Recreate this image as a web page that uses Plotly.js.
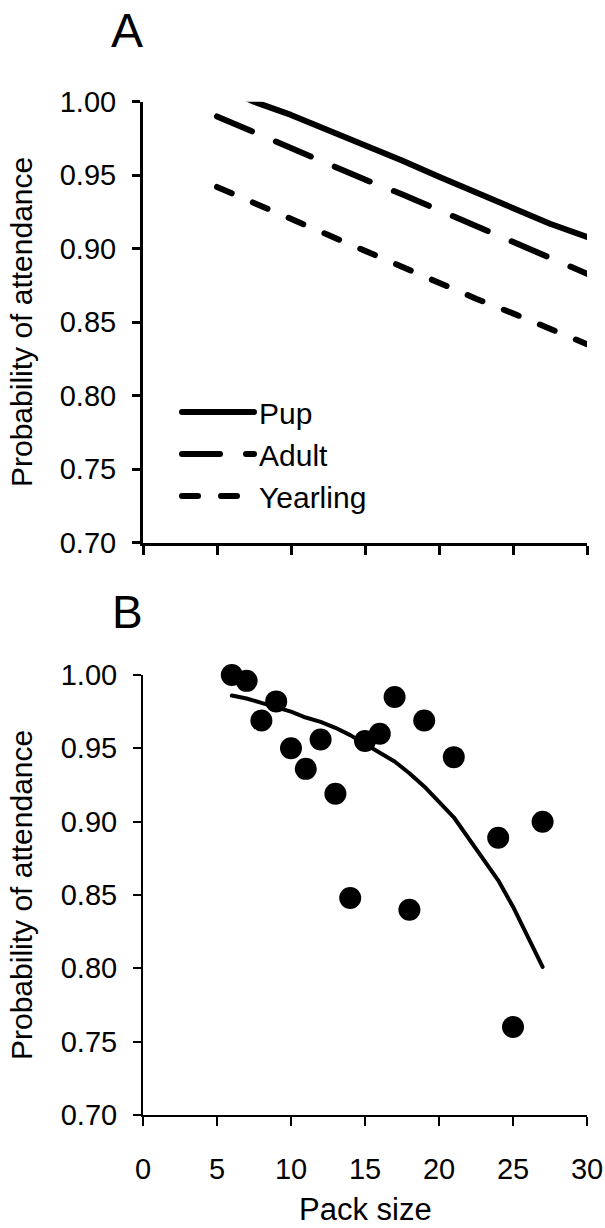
<!DOCTYPE html>
<html>
<head>
<meta charset="utf-8">
<script src="https://cdn.plot.ly/plotly-3.0.1.min.js"></script>
<style>
html,body{margin:0;padding:0;background:#fff;}
#chart path.js-line{stroke-linecap:round;stroke-linejoin:round;}
</style>
</head>
<body>
<div id="chart" style="width:605px;height:1228px;"></div>
<script>
// Panel A: modelled probability of attendance by age class
const modelPackSize = [5, 7.5, 10, 12.5, 15, 17.5, 20, 22.5, 25, 27.5, 30];
const pupProb      = [1.011, 1.000, 0.991, 0.981, 0.970, 0.960, 0.949, 0.938, 0.927, 0.917, 0.908];
const adultProb    = [0.990, 0.979, 0.969, 0.958, 0.947, 0.937, 0.926, 0.915, 0.905, 0.894, 0.883];
const yearlingProb = [0.942, 0.931, 0.920, 0.909, 0.898, 0.887, 0.877, 0.866, 0.856, 0.845, 0.835];

// Panel B: observed pack attendance and fitted curve
const obsPackSize   = [6, 7, 8, 9, 10, 11, 12, 13, 14, 15, 16, 17, 18, 19, 21, 24, 25, 27];
const obsAttendance = [1.000, 0.996, 0.969, 0.982, 0.950, 0.936, 0.956, 0.919, 0.848, 0.955, 0.960, 0.985, 0.840, 0.969, 0.944, 0.889, 0.760, 0.900];
const fitPackSize   = [6, 7, 8, 9, 10, 11, 12, 13, 14, 15, 16, 17, 18, 19, 21, 24, 25, 27];
const fitAttendance = [0.986, 0.984, 0.981, 0.978, 0.975, 0.971, 0.968, 0.964, 0.959, 0.953, 0.947, 0.941, 0.933, 0.924, 0.903, 0.860, 0.842, 0.801];

// Axis ticks
const xTicks = [0, 5, 10, 15, 20, 25, 30];
const yTicks = [0.70, 0.75, 0.80, 0.85, 0.90, 0.95, 1.00];
const yTickText = ["0.70", "0.75", "0.80", "0.85", "0.90", "0.95", "1.00"];

const W = 605, H = 1228;
const px = v => v / W;
const py = v => (H - v) / H;

const FONT = 'Liberation Sans, Arial, sans-serif';

const traces = [
  {x: modelPackSize, y: pupProb, name: 'Pup', type: 'scatter', mode: 'lines',
   line: {color: '#000', width: 6}, xaxis: 'x', yaxis: 'y'},
  {x: modelPackSize, y: adultProb, name: 'Adult', type: 'scatter', mode: 'lines',
   line: {color: '#000', width: 6, dash: '38px,26px'}, xaxis: 'x', yaxis: 'y'},
  {x: modelPackSize, y: yearlingProb, name: 'Yearling', type: 'scatter', mode: 'lines',
   line: {color: '#000', width: 6, dash: '16px,23px'}, xaxis: 'x', yaxis: 'y'},
  {x: fitPackSize, y: fitAttendance, name: 'Fit', type: 'scatter', mode: 'lines',
   line: {color: '#000', width: 4}, xaxis: 'x2', yaxis: 'y2', showlegend: false},
  {x: obsPackSize, y: obsAttendance, name: 'Observed', type: 'scatter', mode: 'markers',
   marker: {color: '#000', size: 22, line: {width: 0}}, cliponaxis: false,
   xaxis: 'x2', yaxis: 'y2', showlegend: false}
];

const xDomain = [px(143), px(587)];
const commonX = {
  range: [0, 30], tickvals: xTicks, ticks: 'outside', ticklen: 9,
  showline: true, linecolor: '#000', tickcolor: '#000',
  showgrid: false, zeroline: false, fixedrange: true
};
const commonY = {
  range: [0.70, 1.00], tickvals: yTicks, ticktext: yTickText, ticks: 'outside', ticklen: 8,
  showline: true, linecolor: '#000', tickcolor: '#000',
  showgrid: false, zeroline: false, fixedrange: true, ticklabelstandoff: 10,
  tickfont: {family: FONT, size: 29, color: '#000'}
};

const layout = {
  width: W, height: H,
  margin: {l: 0, r: 0, t: 0, b: 0},
  paper_bgcolor: '#fff', plot_bgcolor: '#fff',
  font: {family: FONT, color: '#000'},
  showlegend: true,
  legend: {
    x: px(177), y: py(386), xanchor: 'left', yanchor: 'top',
    bgcolor: 'rgba(0,0,0,0)', borderwidth: 0,
    font: {family: FONT, size: 30, color: '#000'},
    itemwidth: 72, tracegroupgap: 0
  },
  xaxis: Object.assign({}, commonX, {domain: xDomain, anchor: 'y', showticklabels: false,
    linewidth: 3, tickwidth: 3}),
  yaxis: Object.assign({}, commonY, {domain: [py(542.7), py(101.7)], anchor: 'x',
    linewidth: 3, tickwidth: 3}),
  xaxis2: Object.assign({}, commonX, {domain: xDomain, anchor: 'y2', showticklabels: true,
    linewidth: 2, tickwidth: 2, ticklabelstandoff: 18,
    tickfont: {family: FONT, size: 29, color: '#000'}}),
  yaxis2: Object.assign({}, commonY, {domain: [py(1115), py(675)], anchor: 'x2',
    linewidth: 2, tickwidth: 2}),
  annotations: [
    {text: 'A', xref: 'paper', yref: 'paper', x: px(127), y: py(30), xanchor: 'center', yanchor: 'middle',
     showarrow: false, font: {family: FONT, size: 48, color: '#000'}},
    {text: 'B', xref: 'paper', yref: 'paper', x: px(127), y: py(612), xanchor: 'center', yanchor: 'middle',
     showarrow: false, font: {family: FONT, size: 46, color: '#000'}},
    {text: 'Probability of attendance', xref: 'paper', yref: 'paper', x: px(21), y: py(322),
     xanchor: 'center', yanchor: 'middle', textangle: -90, showarrow: false,
     font: {family: FONT, size: 30, color: '#000'}},
    {text: 'Probability of attendance', xref: 'paper', yref: 'paper', x: px(21), y: py(895),
     xanchor: 'center', yanchor: 'middle', textangle: -90, showarrow: false,
     font: {family: FONT, size: 30, color: '#000'}},
    {text: 'Pack size', xref: 'paper', yref: 'paper', x: px(365), y: 0,
     xanchor: 'center', yanchor: 'bottom', showarrow: false, borderpad: 0,
     font: {family: FONT, size: 31, color: '#000'}}
  ]
};

Plotly.newPlot('chart', traces, layout, {displayModeBar: false, staticPlot: true});
</script>
</body>
</html>
